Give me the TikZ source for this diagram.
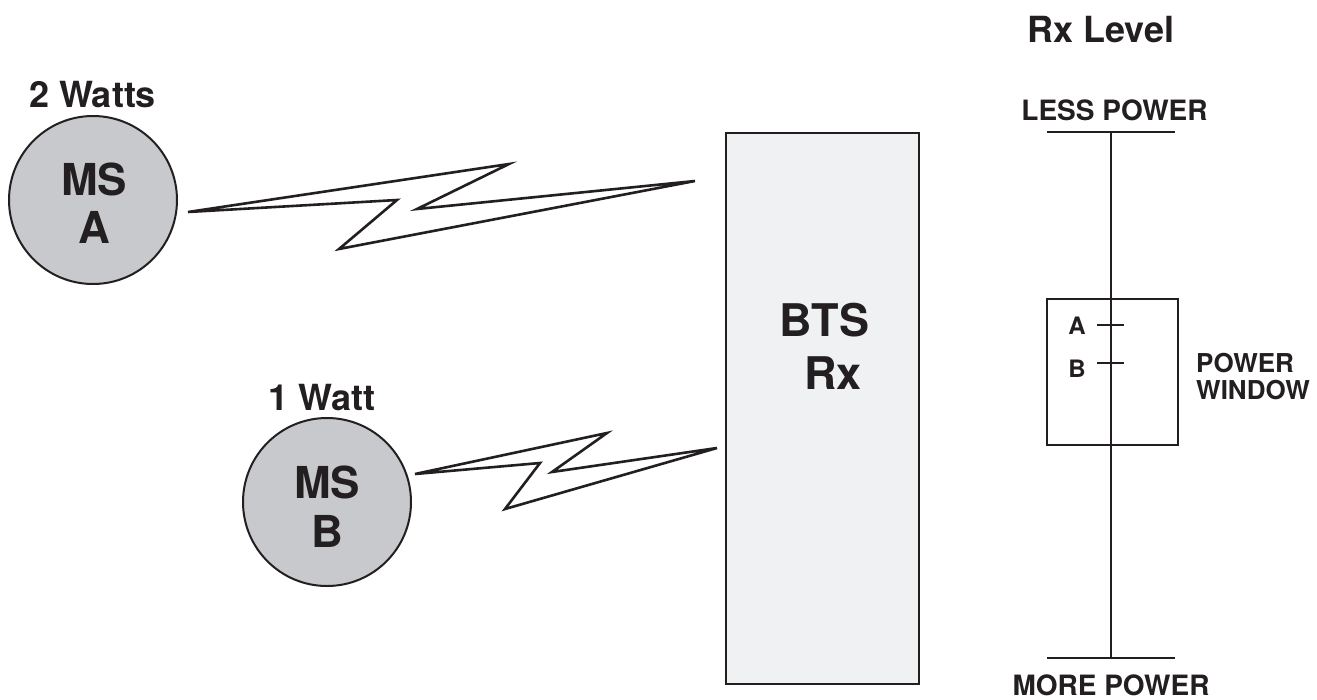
\documentclass[tikz,border=0pt]{standalone}
\usepackage{fontspec}
\setmainfont{TeX Gyre Heros}
\definecolor{msgray}{RGB}{200,201,204}
\definecolor{btsgray}{RGB}{240,241,243}
\definecolor{ink}{RGB}{35,31,32}
\begin{document}
\begin{tikzpicture}[x=1pt,y=-1pt,
  lbl/.style={inner sep=0pt,anchor=base,text=ink,font=\bfseries\fontsize{#1}{#1}\selectfont},
  lbl/.default=28,
  ms/.style={circle,draw=ink,line width=2pt,fill=msgray,minimum size=168pt,inner sep=0pt},
  bolt/.style={draw=ink,line width=2.6pt,line join=miter,fill=white},
  thin/.style={draw=ink,line width=2.2pt}]
\useasboundingbox (0,0) rectangle (1317,699);
% mobile stations
\node[ms] (msa) at (93,200) {};
\node[ms] (msb) at (327,502) {};
\node[lbl=36] (wa) at (92.5,107) {2 Watts};
\node[lbl=36] (wb) at (321.5,410) {1 Watt};
\node[lbl=44] (msat) at (94,195) {MS};
\node[lbl=44] (msaa) at (94,243) {A};
\node[lbl=44] (msbt) at (327,498) {MS};
\node[lbl=44] (msbb) at (327,547) {B};
% BTS
\node[draw=ink,line width=2pt,fill=btsgray,minimum width=193pt,minimum height=551pt,inner sep=0pt] (bts) at (822.5,408.5) {};
\node[lbl=45] (btst) at (824.5,336) {BTS};
\node[lbl=45] (btsr) at (833,389) {Rx};
% bolts
\draw[bolt] (188,212) -- (397,200) -- (339,249) -- (695,181) -- (417,209) -- (509,164) -- cycle;
\draw[bolt] (415,474) -- (540,463) -- (505,509) -- (717,448) -- (552,472) -- (607,433) -- cycle;
% level scale
\node[lbl=36] (rxl) at (1101,42) {Rx Level};
\node[lbl=28] (less) at (1114.5,120) {LESS POWER};
\node[lbl=28] (more) at (1111,695) {MORE POWER};
\coordinate (top) at (1111,132);
\coordinate (bot) at (1111,658);
\draw[thin] (1047,132) -- (1175,132);
\draw[thin] (1047,658) -- (1175,658);
\node[draw=ink,line width=2pt,minimum width=131pt,minimum height=146pt,inner sep=0pt] (win) at (1112.5,372) {};
\draw[thin] (top) -- (bot);
\draw[thin] (1097,325) -- (1124,325);
\draw[thin] (1097,363) -- (1124,363);
\node[lbl=24] (wa2) at (1077,334) {A};
\node[lbl=24] (wb2) at (1077,377) {B};
\node[lbl=26,anchor=base west] (pw) at (1196,372) {POWER};
\node[lbl=26,anchor=base west] (ww) at (1196,399) {WINDOW};
\end{tikzpicture}
\end{document}
